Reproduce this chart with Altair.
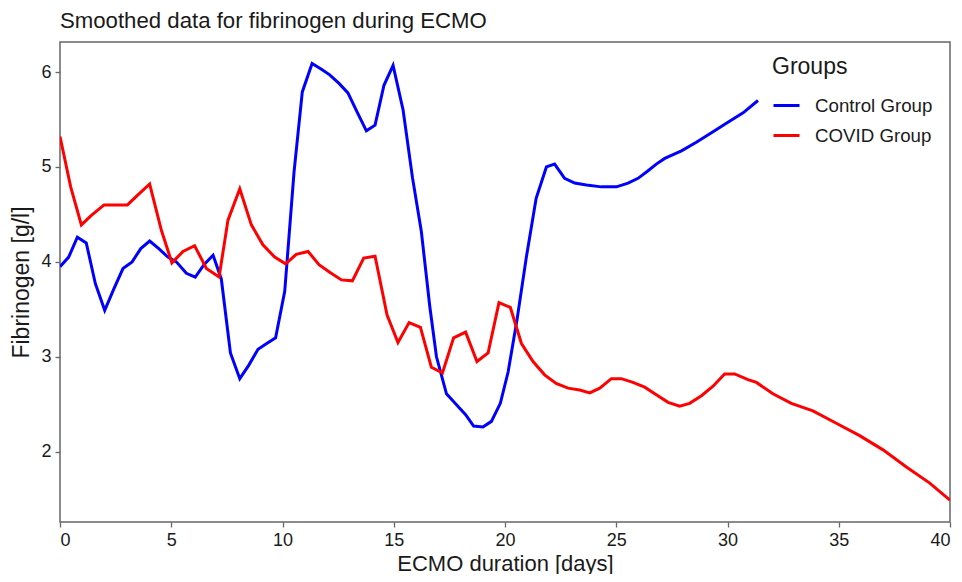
import altair as alt
import pandas as pd

# Control group (blue)
control_days = [0, 0.39, 0.78, 1.18, 1.59, 2.01, 2.43, 2.83, 3.24, 3.63,
                4.03, 4.44, 4.85, 5.23, 5.68, 6.08, 6.47, 6.88, 7.25, 7.66,
                8.08, 8.48, 8.90, 9.29, 9.69, 10.10, 10.52, 10.89, 11.33, 11.75,
                12.12, 12.54, 12.94, 13.35, 13.77, 14.16, 14.56, 14.97, 15.42, 15.84,
                16.24, 16.62, 16.92, 17.37, 17.84, 18.23, 18.59, 19.01, 19.39, 19.79,
                20.14, 20.54, 20.96, 21.40, 21.86, 22.23, 22.68, 23.13, 23.66, 24.33,
                25.01, 25.53, 25.98, 26.43, 26.80, 27.18, 27.93, 28.60, 29.35, 30.02,
                30.70, 31.37]
control_vals = [3.95, 4.05, 4.26, 4.20, 3.77, 3.49, 3.72, 3.93, 4.00, 4.14,
                4.22, 4.14, 4.05, 4.00, 3.88, 3.84, 3.97, 4.07, 3.82, 3.04,
                2.77, 2.91, 3.08, 3.14, 3.20, 3.69, 4.95, 5.79, 6.09, 6.03,
                5.97, 5.88, 5.78, 5.58, 5.38, 5.44, 5.86, 6.07, 5.60, 4.89,
                4.32, 3.53, 3.00, 2.61, 2.49, 2.39, 2.27, 2.26, 2.32, 2.51,
                2.84, 3.39, 4.05, 4.67, 5.00, 5.03, 4.88, 4.83, 4.81, 4.79,
                4.79, 4.83, 4.88, 4.96, 5.03, 5.09, 5.17, 5.26, 5.37, 5.47,
                5.57, 5.70]

# COVID group (red)
covid_days = [0, 0.48, 0.96, 1.41, 1.98, 3.03, 3.48, 4.03, 4.56, 5.03,
              5.53, 6.05, 6.58, 7.15, 7.55, 8.08, 8.60, 9.12, 9.65, 10.14,
              10.62, 11.15, 11.64, 12.12, 12.65, 13.14, 13.65, 14.16, 14.70, 15.19,
              15.69, 16.20, 16.69, 17.19, 17.69, 18.23, 18.74, 19.24, 19.73, 20.24,
              20.74, 21.26, 21.78, 22.30, 22.83, 23.36, 23.81, 24.26, 24.78, 25.23,
              25.75, 26.28, 26.80, 27.33, 27.85, 28.30, 28.83, 29.35, 29.87, 30.32,
              30.92, 31.30, 32.04, 32.87, 33.84, 34.89, 35.94, 36.99, 38.04, 39.09,
              40]
covid_vals = [5.32, 4.79, 4.39, 4.49, 4.60, 4.60, 4.70, 4.82, 4.33, 3.99,
              4.11, 4.17, 3.93, 3.84, 4.44, 4.77, 4.39, 4.18, 4.05, 3.98,
              4.08, 4.11, 3.97, 3.89, 3.81, 3.80, 4.04, 4.06, 3.44, 3.15,
              3.36, 3.31, 2.89, 2.83, 3.20, 3.26, 2.95, 3.04, 3.57, 3.52,
              3.14, 2.95, 2.81, 2.72, 2.67, 2.65, 2.62, 2.67, 2.77, 2.77,
              2.73, 2.68, 2.60, 2.52, 2.48, 2.51, 2.59, 2.69, 2.82, 2.82,
              2.76, 2.73, 2.61, 2.51, 2.43, 2.30, 2.17, 2.02, 1.84, 1.67,
              1.49]

groups = ["Control Group", "COVID Group"]
colors = ["#0000ff", "#ff0000"]
x_ticks = [0, 5, 10, 15, 20, 25, 30, 35, 40]
y_ticks = [2, 3, 4, 5, 6]

df = pd.concat([
    pd.DataFrame({"day": control_days, "value": control_vals, "group": groups[0]}),
    pd.DataFrame({"day": covid_days, "value": covid_vals, "group": groups[1]}),
])

FONT = "Liberation Sans"

chart = alt.Chart(df).mark_line(strokeWidth=3, clip=True).encode(
    x=alt.X("day:Q",
            scale=alt.Scale(domain=[0, 40], nice=False, zero=False),
            axis=alt.Axis(values=x_ticks, title="ECMO duration [days]",
                          titlePadding=4, titleFontSize=22)),
    y=alt.Y("value:Q",
            scale=alt.Scale(domain=[1.26, 6.316], nice=False, zero=False),
            axis=alt.Axis(values=y_ticks, title="Fibrinogen [g/l]", titlePadding=7)),
    color=alt.Color("group:N",
                    scale=alt.Scale(domain=groups, range=colors),
                    legend=alt.Legend(title="Groups", orient="none",
                                      legendX=712, legendY=14,
                                      symbolType="stroke", symbolSize=676,
                                      symbolStrokeWidth=3, rowPadding=5,
                                      labelOffset=14, titlePadding=12,
                                      titleFontSize=23, labelFontSize=18.7,
                                      titleFontWeight="normal",
                                      titleFont=FONT, labelFont=FONT,
                                      titleColor="#1a1a1a", labelColor="#1a1a1a")),
).properties(
    width=890, height=480,
    title=alt.TitleParams("Smoothed data for fibrinogen during ECMO",
                          anchor="start", frame="group", fontSize=22.2,
                          fontWeight="normal", font=FONT, color="#1a1a1a",
                          offset=10),
    autosize=alt.AutoSizeParams(type="none"),
    padding={"left": 52, "top": 34, "right": 4, "bottom": 52},
).configure_view(
    stroke="#666666", strokeWidth=1.5
).configure_axis(
    domain=False, grid=False,
    tickColor="#666666", tickSize=5, tickWidth=1.3,
    labelFont=FONT, labelFontSize=18, labelColor="#1a1a1a", labelPadding=4,
    titleFont=FONT, titleFontSize=23, titleFontWeight="normal", titleColor="#1a1a1a",
)

chart.save("out.html", embed_options={"renderer": "svg", "actions": False})
